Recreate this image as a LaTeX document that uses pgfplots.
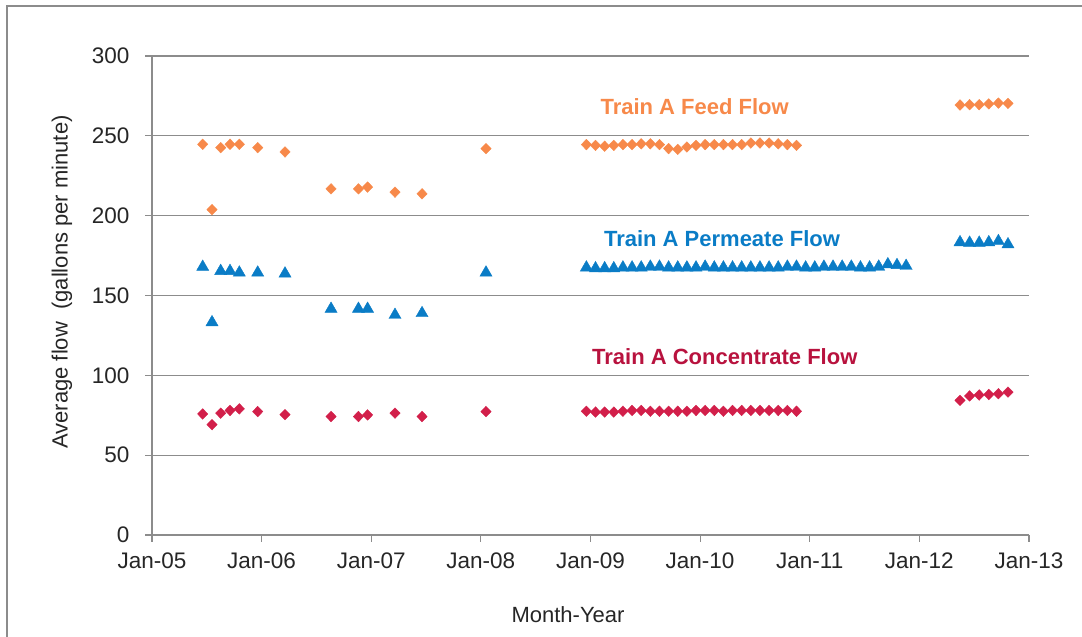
\documentclass[border=0pt]{standalone}
\usepackage{pgfplots}
\pgfplotsset{compat=1.18}
\usepackage{fontspec}
\setmainfont{Liberation Sans}
\definecolor{feed}{HTML}{F7894A}
\definecolor{perm}{HTML}{0A7CC6}
\definecolor{conc}{HTML}{D21F4A}
\definecolor{conclab}{HTML}{B8123E}
\definecolor{gridc}{HTML}{8C8C8C}
\definecolor{txt}{HTML}{262626}
\pgfplotstableread{
x y
5.55 244.7
6.57 203.8
7.52 242.6
8.54 244.7
9.56 244.7
11.57 242.6
14.56 239.9
19.60 216.8
22.60 216.8
23.60 217.9
26.60 214.7
29.56 213.7
36.56 242.0
47.55 244.5
48.55 244.0
49.55 243.5
50.55 244.0
51.55 244.5
52.55 244.5
53.55 245.0
54.55 245.0
55.55 244.5
56.55 242.0
57.55 241.5
58.55 243.0
59.55 244.0
60.55 244.5
61.55 244.5
62.55 244.5
63.55 244.5
64.55 244.5
65.55 245.5
66.55 245.5
67.55 245.5
68.55 245.0
69.55 244.5
70.55 244.0
88.45 269.3
89.50 269.5
90.55 269.5
91.60 270.0
92.65 270.5
93.70 270.3
}\feedtab
\pgfplotstableread{
x y
5.55 167.9
6.57 133.2
7.52 165.3
8.54 165.3
9.56 164.3
11.57 164.3
14.56 163.7
19.60 141.6
22.60 141.6
23.60 141.6
26.60 137.8
29.56 138.9
36.56 164.3
47.55 167.5
48.55 167.0
49.55 167.0
50.55 167.0
51.55 167.5
52.55 167.5
53.55 167.5
54.55 168.0
55.55 168.0
56.55 167.5
57.55 167.5
58.55 167.5
59.55 167.5
60.55 168.0
61.55 167.5
62.55 167.5
63.55 167.5
64.55 167.5
65.55 167.5
66.55 167.5
67.55 167.5
68.55 167.5
69.55 168.0
70.55 168.0
71.55 167.5
72.55 167.5
73.55 168.0
74.55 168.0
75.55 168.0
76.55 168.0
77.55 167.5
78.55 167.5
79.55 168.0
80.55 169.5
81.55 169.0
82.55 168.5
88.45 183.3
89.50 183.0
90.55 183.0
91.60 183.3
92.65 184.0
93.70 182.0
}\permtab
\pgfplotstableread{
x y
5.55 75.8
6.57 69.1
7.52 76.3
8.54 78.0
9.56 79.0
11.57 77.3
14.56 75.4
19.60 74.2
22.60 74.2
23.60 75.2
26.60 76.3
29.56 74.2
36.56 77.3
47.55 77.5
48.55 77.0
49.55 77.0
50.55 77.0
51.55 77.5
52.55 78.0
53.55 78.0
54.55 77.5
55.55 77.5
56.55 77.5
57.55 77.5
58.55 77.5
59.55 78.0
60.55 78.0
61.55 78.0
62.55 77.5
63.55 78.0
64.55 78.0
65.55 78.0
66.55 78.0
67.55 78.0
68.55 78.0
69.55 78.0
70.55 77.5
88.45 84.3
89.50 87.1
90.55 87.7
91.60 88.0
92.65 88.5
93.70 89.5
}\conctab
\begin{document}
\begin{tikzpicture}[x=1pt,y=1pt]
\path[use as bounding box] (0,0) rectangle (1082,637);
\draw[gridc, line width=1.2pt] (7,0) -- (7,631) -- (1082,631);
\begin{axis}[
  at={(152pt,102pt)}, anchor=south west,
  scale only axis, width=877pt, height=479pt,
  xmin=0, xmax=96, ymin=0, ymax=300,
  xtick={0,12,...,96},
  xticklabels={Jan-05,Jan-06,Jan-07,Jan-08,Jan-09,Jan-10,Jan-11,Jan-12,Jan-13},
  ytick={0,50,...,300},
  ymajorgrids, grid style={gridc, line width=1.2pt},
  axis x line*=bottom, axis y line*=left,
  axis line style={gridc, line width=1.2pt, -},
  tick align=outside, major tick length=7pt,
  tick style={gridc, line width=1.2pt},
  ticklabel style={font=\fontsize{22.5}{25}\selectfont, text=txt},
  /pgf/number format/assume math mode=true,
  yticklabel style={xshift=-12pt},
  xticklabel style={yshift=-7pt},
  clip=false,
]
\addplot[only marks, mark=diamond*, mark size=5.3pt, color=feed, mark options={xscale=1.3}] table {\feedtab};
\addplot[only marks, mark=triangle*, mark size=7pt, color=perm] table {\permtab};
\addplot[only marks, mark=diamond*, mark size=5.3pt, color=conc, mark options={xscale=1.3}] table {\conctab};
\node[font=\bfseries\fontsize{22}{24}\selectfont, text=feed] at (axis cs:59.4,268.2) {Train A Feed Flow};
\node[font=\bfseries\fontsize{22}{24}\selectfont, text=perm] at (axis cs:62.4,185.8) {Train A Permeate Flow};
\node[font=\bfseries\fontsize{22}{24}\selectfont, text=conclab] at (axis cs:62.7,111.6) {Train A Concentrate Flow};
\end{axis}
\node[rotate=90, font=\fontsize{22}{24}\selectfont, text=txt] at (62,355) {Average flow\ \ (gallons per minute)};
\node[font=\fontsize{22}{24}\selectfont, text=txt] at (568,22) {Month-Year};
\end{tikzpicture}
\end{document}
